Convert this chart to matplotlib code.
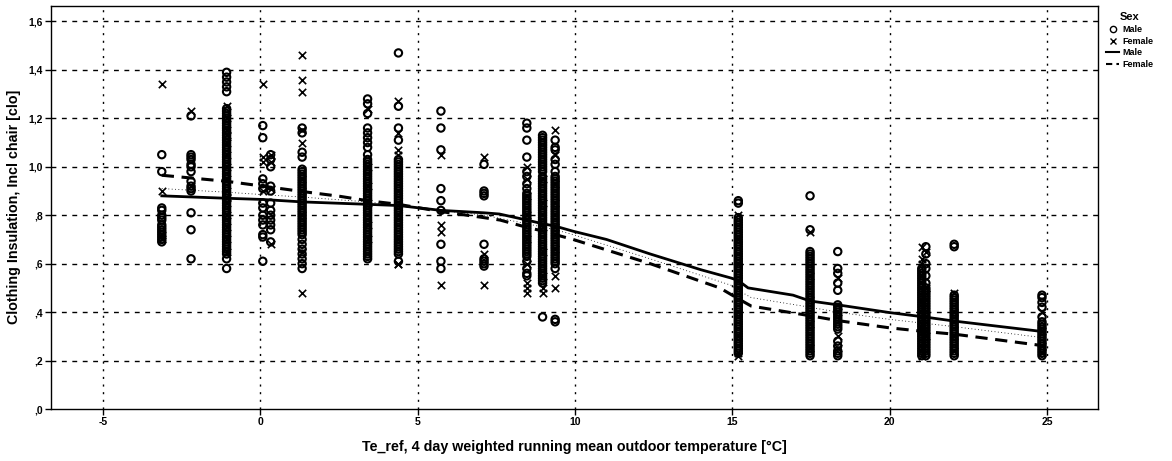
import matplotlib
matplotlib.use("Agg")
import matplotlib.pyplot as plt
from matplotlib.lines import Line2D

plt.rcParams['font.family'] = ['Liberation Sans', 'DejaVu Sans']

# ---- data: cluster x positions and male / female clothing values ----
cluster_x = [-3.13, -2.2, -1.07, 0.08, 0.33, 1.33, 3.41, 4.39, 5.74, 7.11,
             8.47, 8.97, 9.37, 15.19, 17.47, 18.35, 21.02, 21.15, 22.05, 24.84]

male_c01 = [1.05, 0.98, 0.83, 0.82, 0.80, 0.79, 0.78, 0.76, 0.75, 0.74, 0.73, 0.72, 0.71, 0.70, 0.69]
female_c01 = [1.34, 0.90, 0.72, 0.70]
male_c02 = [1.21, 1.05, 1.04, 1.03, 1.01, 1.00, 0.98, 0.94, 0.92, 0.91, 0.90, 0.81, 0.74, 0.62]
female_c02 = [1.23, 0.92]
male_c03 = [1.39, 1.37, 1.35, 1.33, 1.31, 1.24, 1.23, 1.22, 1.21, 1.20, 1.19, 1.18, 1.17, 1.16,
            1.15, 1.14, 1.13, 1.12, 1.11, 1.10, 1.09, 1.08, 1.07, 1.06, 1.05, 1.04, 1.03, 1.02,
            1.01, 1.00, 0.99, 0.98, 0.97, 0.96, 0.95, 0.94, 0.93, 0.92, 0.91, 0.90, 0.89, 0.88,
            0.87, 0.86, 0.85, 0.84, 0.83, 0.82, 0.81, 0.80, 0.79, 0.78, 0.77, 0.76, 0.75, 0.74,
            0.73, 0.72, 0.71, 0.70, 0.69, 0.68, 0.67, 0.66, 0.65, 0.64, 0.62, 0.58]
female_c03 = [1.25, 1.20, 1.15, 1.13, 1.10, 1.05, 1.00, 0.95, 0.90, 0.87, 0.85, 0.80, 0.75, 0.70, 0.65]
male_c04 = [1.17, 1.12, 0.95, 0.93, 0.91, 0.85, 0.83, 0.80, 0.78, 0.76, 0.72, 0.71, 0.61]
female_c04 = [1.34, 1.04, 1.02, 0.90]
male_c05 = [1.05, 1.03, 1.00, 0.92, 0.90, 0.85, 0.82, 0.80, 0.78, 0.76, 0.74, 0.69]
female_c05 = [1.05, 1.02, 0.91, 0.68]
male_c06 = [1.16, 1.14, 1.06, 1.04, 0.99, 0.98, 0.97, 0.96, 0.95, 0.94, 0.93, 0.92, 0.91, 0.90,
            0.89, 0.88, 0.87, 0.86, 0.85, 0.84, 0.83, 0.82, 0.81, 0.80, 0.79, 0.78, 0.77, 0.76,
            0.75, 0.74, 0.73, 0.72, 0.70, 0.68, 0.66, 0.64, 0.62, 0.60, 0.58]
female_c06 = [1.46, 1.36, 1.31, 1.15, 1.10, 0.95, 0.90, 0.80, 0.65, 0.48]
male_c07 = [1.28, 1.26, 1.22, 1.16, 1.14, 1.12, 1.10, 1.08, 1.05, 1.03, 1.02, 1.01, 1.00, 0.99,
            0.98, 0.97, 0.96, 0.95, 0.94, 0.93, 0.92, 0.91, 0.90, 0.89, 0.88, 0.87, 0.86, 0.85,
            0.84, 0.83, 0.82, 0.81, 0.80, 0.79, 0.78, 0.77, 0.76, 0.75, 0.74, 0.73, 0.72, 0.71,
            0.70, 0.69, 0.68, 0.67, 0.66, 0.65, 0.64, 0.63, 0.62]
female_c07 = [1.24, 1.00, 0.92, 0.85, 0.76, 0.70]
male_c08 = [1.47, 1.25, 1.16, 1.11, 1.03, 1.02, 1.01, 1.00, 0.99, 0.98, 0.97, 0.96, 0.95, 0.94,
            0.93, 0.92, 0.91, 0.90, 0.89, 0.88, 0.87, 0.86, 0.85, 0.84, 0.83, 0.82, 0.81, 0.80,
            0.79, 0.78, 0.77, 0.76, 0.75, 0.74, 0.73, 0.72, 0.71, 0.70, 0.69, 0.68, 0.67, 0.66,
            0.65, 0.64, 0.61]
female_c08 = [1.27, 1.14, 1.07, 1.05, 0.96, 0.90, 0.80, 0.70, 0.60, 0.60]
male_c09 = [1.23, 1.16, 1.07, 0.91, 0.86, 0.82, 0.68, 0.61, 0.58]
female_c09 = [1.05, 0.76, 0.73, 0.51]
male_c10 = [1.01, 0.90, 0.89, 0.88, 0.68, 0.62, 0.61, 0.60, 0.59]
female_c10 = [1.04, 0.64, 0.51]
male_c11 = [1.18, 1.16, 1.11, 1.04, 0.98, 0.96, 0.93, 0.91, 0.89, 0.88, 0.87, 0.86, 0.85, 0.84,
            0.83, 0.82, 0.81, 0.80, 0.79, 0.78, 0.77, 0.76, 0.75, 0.74, 0.73, 0.72, 0.71, 0.70,
            0.69, 0.68, 0.67, 0.66, 0.65, 0.64, 0.63, 0.61, 0.58, 0.56, 0.55]
female_c11 = [1.00, 0.95, 0.88, 0.80, 0.70, 0.60, 0.52, 0.50, 0.48]
male_c12 = [1.13, 1.12, 1.11, 1.10, 1.09, 1.08, 1.07, 1.06, 1.05, 1.04, 1.03, 1.02, 1.01, 1.00,
            0.99, 0.98, 0.96, 0.95, 0.94, 0.93, 0.92, 0.91, 0.90, 0.89, 0.88, 0.87, 0.86, 0.85,
            0.84, 0.83, 0.82, 0.81, 0.80, 0.79, 0.78, 0.77, 0.76, 0.75, 0.74, 0.73, 0.72, 0.71,
            0.70, 0.69, 0.68, 0.67, 0.66, 0.65, 0.64, 0.63, 0.62, 0.61, 0.60, 0.59, 0.58, 0.57,
            0.56, 0.55, 0.54, 0.53, 0.52, 0.38]
female_c12 = [0.95, 0.85, 0.75, 0.65, 0.55, 0.50, 0.48]
male_c13 = [1.11, 1.08, 1.07, 1.03, 1.01, 0.98, 0.96, 0.95, 0.94, 0.93, 0.92, 0.91, 0.90, 0.89,
            0.88, 0.87, 0.86, 0.85, 0.84, 0.83, 0.82, 0.81, 0.80, 0.79, 0.78, 0.77, 0.76, 0.75,
            0.74, 0.73, 0.72, 0.71, 0.70, 0.69, 0.68, 0.67, 0.66, 0.65, 0.64, 0.63, 0.62, 0.61,
            0.60, 0.58, 0.37, 0.36]
female_c13 = [1.15, 1.05, 0.93, 0.85, 0.75, 0.66, 0.55, 0.50]
male_c14 = [0.86, 0.85, 0.79, 0.78, 0.77, 0.76, 0.75, 0.74, 0.73, 0.72, 0.71, 0.70, 0.69, 0.68,
            0.67, 0.66, 0.65, 0.64, 0.63, 0.62, 0.61, 0.60, 0.59, 0.58, 0.57, 0.56, 0.55, 0.54,
            0.53, 0.52, 0.51, 0.50, 0.49, 0.48, 0.47, 0.46, 0.45, 0.44, 0.43, 0.42, 0.41, 0.40,
            0.39, 0.38, 0.37, 0.36, 0.35, 0.34, 0.33, 0.32, 0.31, 0.30, 0.29, 0.28, 0.27, 0.26,
            0.25, 0.24, 0.23]
female_c14 = [0.80, 0.70, 0.60, 0.50, 0.40, 0.30, 0.23, 0.22]
male_c15 = [0.88, 0.74, 0.65, 0.64, 0.63, 0.62, 0.61, 0.60, 0.59, 0.58, 0.57, 0.56, 0.55, 0.54,
            0.53, 0.52, 0.51, 0.50, 0.49, 0.48, 0.47, 0.46, 0.45, 0.44, 0.43, 0.42, 0.41, 0.40,
            0.39, 0.38, 0.37, 0.36, 0.35, 0.34, 0.33, 0.32, 0.31, 0.30, 0.29, 0.28, 0.27, 0.26,
            0.25, 0.24, 0.23, 0.22]
female_c15 = [0.73, 0.55, 0.45, 0.35, 0.25]
male_c16 = [0.65, 0.58, 0.56, 0.52, 0.49, 0.43, 0.42, 0.41, 0.40, 0.39, 0.38, 0.37, 0.36, 0.35,
            0.34, 0.33, 0.28, 0.26, 0.24, 0.23, 0.22]
female_c16 = [0.54, 0.40, 0.30, 0.25]
male_c17 = [0.58, 0.57, 0.56, 0.55, 0.54, 0.53, 0.52, 0.51, 0.50, 0.49, 0.48, 0.47, 0.46, 0.45,
            0.44, 0.43, 0.42, 0.41, 0.40, 0.39, 0.38, 0.37, 0.36, 0.35, 0.34, 0.33, 0.32, 0.31,
            0.30, 0.29, 0.28, 0.27, 0.26, 0.25, 0.24, 0.23, 0.22]
female_c17 = [0.67, 0.62, 0.60, 0.55, 0.45, 0.35, 0.25, 0.22]
male_c18 = [0.67, 0.64, 0.60, 0.58, 0.55, 0.52, 0.50, 0.49, 0.48, 0.47, 0.46, 0.45, 0.44, 0.43,
            0.42, 0.41, 0.40, 0.39, 0.38, 0.37, 0.36, 0.35, 0.34, 0.33, 0.32, 0.31, 0.30, 0.29,
            0.28, 0.27, 0.26, 0.25, 0.24, 0.23, 0.22]
female_c18 = [0.65, 0.50, 0.30]
male_c19 = [0.68, 0.67, 0.47, 0.46, 0.45, 0.44, 0.43, 0.42, 0.41, 0.40, 0.39, 0.38, 0.37, 0.36,
            0.35, 0.34, 0.33, 0.32, 0.31, 0.30, 0.29, 0.28, 0.27, 0.26, 0.25, 0.24, 0.23, 0.22]
female_c19 = [0.48, 0.40, 0.30, 0.24]
male_c20 = [0.47, 0.46, 0.44, 0.42, 0.38, 0.36, 0.35, 0.34, 0.33, 0.32, 0.31, 0.30, 0.29, 0.28,
            0.27, 0.26, 0.25, 0.24, 0.23, 0.22]
female_c20 = [0.40, 0.32, 0.26, 0.23]

male_clusters = [male_c01, male_c02, male_c03, male_c04, male_c05, male_c06, male_c07, male_c08,
                 male_c09, male_c10, male_c11, male_c12, male_c13, male_c14, male_c15, male_c16,
                 male_c17, male_c18, male_c19, male_c20]
female_clusters = [female_c01, female_c02, female_c03, female_c04, female_c05, female_c06,
                   female_c07, female_c08, female_c09, female_c10, female_c11, female_c12,
                   female_c13, female_c14, female_c15, female_c16, female_c17, female_c18,
                   female_c19, female_c20]

# fitted (loess) curves
male_fit_x = [-3.13, -1.07, 0.08, 1.33, 3.41, 4.39, 5.74, 7.11, 7.6, 8.47, 8.97, 9.37, 9.94,
              11.0, 12.39, 14.0, 14.98, 15.19, 15.5, 16.93, 17.47, 18.35, 20.0, 21.1, 22.05, 24.84]
male_fit_y = [0.88, 0.87, 0.865, 0.855, 0.845, 0.84, 0.82, 0.81, 0.805, 0.78, 0.765, 0.755, 0.734,
              0.70, 0.64, 0.575, 0.54, 0.53, 0.50, 0.47, 0.446, 0.43, 0.398, 0.38, 0.363, 0.32]
female_fit_x = [-3.13, -1.07, 0.08, 1.33, 2.53, 3.41, 4.39, 5.74, 7.11, 7.62, 8.47, 8.97, 9.37,
                9.94, 12.39, 14.6, 15.19, 15.6, 17.47, 18.35, 20.0, 21.1, 22.05, 24.84]
female_fit_y = [0.965, 0.94, 0.92, 0.898, 0.878, 0.86, 0.845, 0.815, 0.79, 0.78, 0.75, 0.735, 0.72,
                0.70, 0.60, 0.50, 0.455, 0.425, 0.385, 0.365, 0.335, 0.32, 0.309, 0.262]
total_fit_x = [-3.13, -1.07, 0.08, 1.33, 3.41, 4.39, 5.74, 7.11, 8.47, 9.37, 9.94, 12.39, 14.98,
               15.19, 15.6, 17.47, 18.35, 20.0, 22.05, 24.84]
total_fit_y = [0.91, 0.895, 0.885, 0.875, 0.855, 0.84, 0.82, 0.80, 0.765, 0.74, 0.72, 0.62, 0.51,
               0.49, 0.46, 0.42, 0.40, 0.37, 0.34, 0.295]

x_ticks = [-5, 0, 5, 10, 15, 20, 25]
y_ticks = [0.0, 0.2, 0.4, 0.6, 0.8, 1.0, 1.2, 1.4, 1.6]
y_tick_labels = [',0', ',2', ',4', ',6', ',8', '1,0', '1,2', '1,4', '1,6']

# ---- figure ----
fig = plt.figure(figsize=(11.72, 4.61), dpi=100)
ax = fig.add_axes([51 / 1172, 1 - 409 / 461, (1098 - 51) / 1172, (409 - 5.7) / 461])

for cx, my, fy in zip(cluster_x, male_clusters, female_clusters):
    ax.scatter([cx] * len(my), my, s=28, marker='o', facecolors='none',
               edgecolors='black', linewidths=1.5, zorder=3)
    ax.scatter([cx] * len(fy), fy, s=28, marker='x', color='black',
               linewidths=1.2, zorder=3)

ax.plot(male_fit_x, male_fit_y, color='black', lw=2.0, zorder=4)
ax.plot(female_fit_x, female_fit_y, color='black', lw=2.2, ls=(0, (4, 2.5)), zorder=4)
ax.plot(total_fit_x, total_fit_y, color='black', lw=0.6, ls=(0, (1, 3)), zorder=4)

ax.set_xlim(-6.65, 26.62)
ax.set_ylim(0, 1.665)
ax.set_xticks(x_ticks)
ax.set_xticklabels([str(t) for t in x_ticks], fontsize=7.5, fontweight='bold')
ax.set_yticks(y_ticks)
ax.set_yticklabels(y_tick_labels, fontsize=7.5, fontweight='bold')
ax.tick_params(axis='both', direction='out', length=4, width=1, pad=2)

for yv in y_ticks[1:]:
    ax.axhline(yv, color='black', lw=1.0, ls=(0, (3.5, 4)), zorder=1)
for xv in x_ticks:
    ax.axvline(xv, color='black', lw=1.0, ls=(0, (1.5, 4)), zorder=1)

for sp in ax.spines.values():
    sp.set_linewidth(1.0)

ax.set_xlabel('Te_ref, 4 day weighted running mean outdoor temperature [°C]',
              fontsize=10.3, fontweight='bold', labelpad=9)
ax.set_ylabel('Clothing Insulation, Incl chair [clo]', fontsize=10.3, fontweight='bold', labelpad=5)

handles = [
    Line2D([], [], marker='o', ls='none', markerfacecolor='none', markeredgecolor='black', markersize=4.5),
    Line2D([], [], marker='x', ls='none', color='black', markersize=4.5),
    Line2D([], [], color='black', lw=1.5),
    Line2D([], [], color='black', lw=1.5, ls=(0, (3, 2))),
]
leg = fig.legend(handles, ['Male', 'Female', 'Male', 'Female'], title='Sex',
                 loc='upper left', bbox_to_anchor=(1100 / 1172, 1 - 6 / 461),
                 frameon=False, fontsize=6.5, title_fontsize=8,
                 handlelength=1.4, handletextpad=0.4, labelspacing=0.3, borderpad=0.2)
for t in leg.get_texts():
    t.set_fontweight('bold')
leg.get_title().set_fontweight('bold')

fig.savefig('out.png', dpi=100)
